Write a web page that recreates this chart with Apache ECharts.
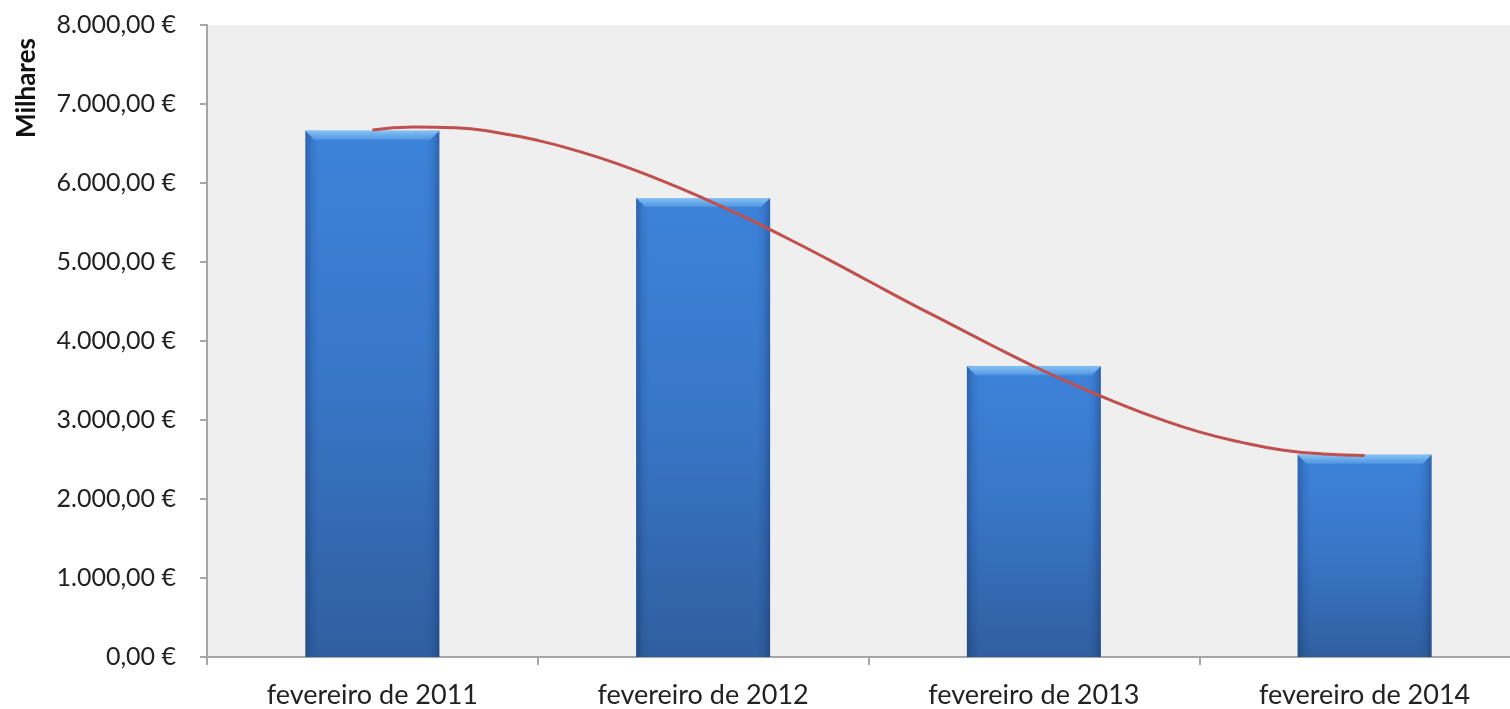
<!DOCTYPE html>
<html>
<head>
<meta charset="utf-8">
<script src="https://cdn.jsdelivr.net/npm/echarts@6/dist/echarts.min.js"></script>
<style>
html,body{margin:0;padding:0;background:#fff;overflow:hidden;width:1510px;height:709px;}
#chart{width:1530px;height:709px;}
</style>
</head>
<body>
<div id="chart"></div>
<script>
// Data (values in thousands of euros)
const categories = ['fevereiro de 2011', 'fevereiro de 2012', 'fevereiro de 2013', 'fevereiro de 2014'];
const values = [6660, 5810, 3680, 2560];
// Trend line at eighth-category positions (1 = first category)
const trendX = [1, 1.125, 1.25, 1.375, 1.5, 1.625, 1.75, 1.875, 2, 2.125, 2.25, 2.375, 2.5, 2.625, 2.75, 2.875, 3, 3.125, 3.25, 3.375, 3.5, 3.625, 3.75, 3.875, 4];
const trendY = [6670, 6710, 6700, 6640, 6540, 6400, 6230, 6030, 5810, 5570, 5310, 5040, 4760, 4480, 4210, 3940, 3680, 3440, 3220, 3020, 2850, 2720, 2620, 2570, 2550];
const yTickLabels = ['0,00 €', '1.000,00 €', '2.000,00 €', '3.000,00 €', '4.000,00 €', '5.000,00 €', '6.000,00 €', '7.000,00 €', '8.000,00 €'];
const yAxisTitle = 'Milhares';

const chart = echarts.init(document.getElementById('chart'), null, {renderer: 'canvas'});
const axisColor = '#A6A6A6';
const textColor = '#222222';
const font = 'Lato';
const barW = '40.5%';

const option = {
  animation: false,
  backgroundColor: '#ffffff',
  grid: {left: 207, right: 0, top: 25, bottom: 52, show: true, backgroundColor: '#EFEFEF', borderWidth: 0},
  xAxis: [{
    type: 'category',
    data: categories,
    axisLine: {show: true, lineStyle: {color: axisColor, width: 2}},
    axisTick: {show: true, length: 8, lineStyle: {color: axisColor, width: 2}},
    axisLabel: {margin: 25, fontFamily: font, fontSize: 27, color: textColor},
    splitLine: {show: false}
  }, {
    type: 'value', min: 0.5, max: 4.5, show: false
  }],
  yAxis: {
    type: 'value', min: 0, max: 8000, interval: 1000,
    axisLine: {show: true, lineStyle: {color: axisColor, width: 2}},
    axisTick: {show: true, length: 7, lineStyle: {color: axisColor, width: 2}},
    splitLine: {show: false},
    axisLabel: {
      margin: 31, fontFamily: font, fontSize: 25, color: textColor,
      formatter: function (v) { return yTickLabels[Math.round(v / 1000)]; }
    }
  },
  graphic: [{
    type: 'text', x: 27, y: 88, rotation: Math.PI / 2,
    style: {text: yAxisTitle, font: 'bold 26px Lato', fill: '#111', textAlign: 'center', textVerticalAlign: 'middle'}
  }],
  series: [{
    type: 'bar', data: values, barWidth: barW, z: 2,
    itemStyle: {
      color: new echarts.graphic.LinearGradient(0, 0, 0, 1, [
        {offset: 0, color: '#3D83DA'},
        {offset: 0.5, color: '#3875C6'},
        {offset: 1, color: '#2F5F9F'}
      ])
    }
  }, {
    type: 'bar', data: values, barWidth: barW, barGap: '-100%', z: 3, silent: true,
    itemStyle: {
      color: new echarts.graphic.LinearGradient(0, 0, 1, 0, [
        {offset: 0, color: 'rgba(15,40,90,0.35)'},
        {offset: 0.05, color: 'rgba(15,40,90,0.10)'},
        {offset: 0.1, color: 'rgba(15,40,90,0)'},
        {offset: 0.9, color: 'rgba(15,40,90,0)'},
        {offset: 0.95, color: 'rgba(15,40,90,0.10)'},
        {offset: 1, color: 'rgba(15,40,90,0.35)'}
      ])
    }
  }, {
    type: 'custom', z: 4, silent: true,
    data: values.map(function (v, i) { return [i, v]; }),
    renderItem: function (params, api) {
      const top = api.coord([api.value(0), api.value(1)]);
      const w = api.size([1, 0])[0] * 0.405;
      const x0 = top[0] - w / 2;
      const h = 9;
      return {
        type: 'polygon',
        shape: {points: [[x0, top[1]], [x0 + w, top[1]], [x0 + w - h, top[1] + h], [x0 + h, top[1] + h]]},
        style: {
          fill: new echarts.graphic.LinearGradient(0, 0, 0, 1, [
            {offset: 0, color: '#86C2F6'},
            {offset: 1, color: '#4F95E0'}
          ])
        }
      };
    }
  }, {
    type: 'line', xAxisIndex: 1, z: 6,
    data: trendX.map(function (x, i) { return [x, trendY[i]]; }),
    smooth: true, showSymbol: false, symbol: 'none',
    lineStyle: {color: '#C0504D', width: 3}
  }]
};
chart.setOption(option);
</script>
</body>
</html>
